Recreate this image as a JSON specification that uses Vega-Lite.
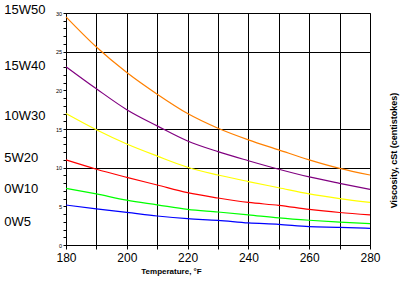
{
  "$schema": "https://vega.github.io/schema/vega-lite/v6.json",
  "width": 304,
  "height": 232,
  "autosize": {"type": "none"},
  "padding": {"left": 66, "top": 13, "right": 30, "bottom": 36},
  "background": "white",
  "config": {"view": {"stroke": "black", "strokeWidth": 1}, "font": "Liberation Sans"},
  "datasets": {
    "curves": [
      {"grade": "15W50", "temp": 180, "visc": 29.5},
      {"grade": "15W50", "temp": 190, "visc": 25.6},
      {"grade": "15W50", "temp": 200, "visc": 22.3},
      {"grade": "15W50", "temp": 210, "visc": 19.5},
      {"grade": "15W50", "temp": 220, "visc": 17.0},
      {"grade": "15W50", "temp": 230, "visc": 15.1},
      {"grade": "15W50", "temp": 240, "visc": 13.6},
      {"grade": "15W50", "temp": 250, "visc": 12.3},
      {"grade": "15W50", "temp": 260, "visc": 11.0},
      {"grade": "15W50", "temp": 270, "visc": 9.9},
      {"grade": "15W50", "temp": 280, "visc": 9.05},
      {"grade": "15W40", "temp": 180, "visc": 23.06},
      {"grade": "15W40", "temp": 190, "visc": 20.2},
      {"grade": "15W40", "temp": 200, "visc": 17.5},
      {"grade": "15W40", "temp": 210, "visc": 15.4},
      {"grade": "15W40", "temp": 220, "visc": 13.45},
      {"grade": "15W40", "temp": 230, "visc": 12.07},
      {"grade": "15W40", "temp": 240, "visc": 10.9},
      {"grade": "15W40", "temp": 250, "visc": 9.8},
      {"grade": "15W40", "temp": 260, "visc": 8.8},
      {"grade": "15W40", "temp": 270, "visc": 7.97},
      {"grade": "15W40", "temp": 280, "visc": 7.2},
      {"grade": "10W30", "temp": 180, "visc": 17.0},
      {"grade": "10W30", "temp": 190, "visc": 14.9},
      {"grade": "10W30", "temp": 200, "visc": 13.06},
      {"grade": "10W30", "temp": 210, "visc": 11.5},
      {"grade": "10W30", "temp": 220, "visc": 10.05},
      {"grade": "10W30", "temp": 230, "visc": 9.05},
      {"grade": "10W30", "temp": 240, "visc": 8.2},
      {"grade": "10W30", "temp": 250, "visc": 7.4},
      {"grade": "10W30", "temp": 260, "visc": 6.6},
      {"grade": "10W30", "temp": 270, "visc": 6.0},
      {"grade": "10W30", "temp": 280, "visc": 5.5},
      {"grade": "5W20", "temp": 180, "visc": 11.0},
      {"grade": "5W20", "temp": 190, "visc": 9.8},
      {"grade": "5W20", "temp": 200, "visc": 8.75},
      {"grade": "5W20", "temp": 210, "visc": 7.76},
      {"grade": "5W20", "temp": 220, "visc": 6.77},
      {"grade": "5W20", "temp": 230, "visc": 6.08},
      {"grade": "5W20", "temp": 240, "visc": 5.5},
      {"grade": "5W20", "temp": 250, "visc": 5.13},
      {"grade": "5W20", "temp": 260, "visc": 4.6},
      {"grade": "5W20", "temp": 270, "visc": 4.2},
      {"grade": "5W20", "temp": 280, "visc": 3.9},
      {"grade": "0W10", "temp": 180, "visc": 7.33},
      {"grade": "0W10", "temp": 190, "visc": 6.6},
      {"grade": "0W10", "temp": 200, "visc": 5.8},
      {"grade": "0W10", "temp": 210, "visc": 5.2},
      {"grade": "0W10", "temp": 220, "visc": 4.6},
      {"grade": "0W10", "temp": 230, "visc": 4.27},
      {"grade": "0W10", "temp": 240, "visc": 3.9},
      {"grade": "0W10", "temp": 250, "visc": 3.5},
      {"grade": "0W10", "temp": 260, "visc": 3.2},
      {"grade": "0W10", "temp": 270, "visc": 2.97},
      {"grade": "0W10", "temp": 280, "visc": 2.76},
      {"grade": "0W5", "temp": 180, "visc": 5.17},
      {"grade": "0W5", "temp": 190, "visc": 4.66},
      {"grade": "0W5", "temp": 200, "visc": 4.22},
      {"grade": "0W5", "temp": 210, "visc": 3.75},
      {"grade": "0W5", "temp": 220, "visc": 3.4},
      {"grade": "0W5", "temp": 230, "visc": 3.19},
      {"grade": "0W5", "temp": 240, "visc": 2.85},
      {"grade": "0W5", "temp": 250, "visc": 2.67},
      {"grade": "0W5", "temp": 260, "visc": 2.37},
      {"grade": "0W5", "temp": 270, "visc": 2.29},
      {"grade": "0W5", "temp": 280, "visc": 2.15}
    ],
    "labels": [
      {"grade": "15W50", "visc": 30.4},
      {"grade": "15W40", "visc": 23.1},
      {"grade": "10W30", "visc": 16.7},
      {"grade": "5W20", "visc": 11.2},
      {"grade": "0W10", "visc": 7.2},
      {"grade": "0W5", "visc": 3.0}
    ]
  },
  "layer": [
    {
      "data": {"name": "curves"},
      "mark": {"type": "line", "strokeWidth": 1.2, "interpolate": "monotone"},
      "encoding": {
        "x": {
          "field": "temp", "type": "quantitative",
          "scale": {"domain": [180, 280], "nice": false, "zero": false},
          "axis": {
            "title": "Temperature, °F",
            "values": [180, 190, 200, 210, 220, 230, 240, 250, 260, 270, 280],
            "labelExpr": "datum.value % 20 == 0 ? datum.label : ''",
            "labelFontSize": 12, "labelFont": "Liberation Sans", "labelColor": "black",
            "labelFlush": false, "labelOverlap": false, "labelPadding": 3,
            "tickSize": 4, "tickColor": "black", "domainColor": "black",
            "grid": true, "gridColor": "black", "gridOpacity": 1,
            "titleFontSize": 8, "titleFontWeight": "bold", "titleColor": "black",
            "titleX": 105, "titleY": 26, "titleAlign": "center", "titleBaseline": "middle"
          }
        },
        "y": {
          "field": "visc", "type": "quantitative",
          "scale": {"domain": [0, 30], "nice": false},
          "axis": {
            "orient": "left", "title": null,
            "values": [0,1,2,3,4,5,6,7,8,9,10,11,12,13,14,15,16,17,18,19,20,21,22,23,24,25,26,27,28,29,30],
            "labelExpr": "datum.value % 5 == 0 ? datum.label : ''",
            "labelFontSize": 5.5, "labelFont": "Liberation Sans", "labelColor": "black",
            "labelOverlap": false, "labelPadding": 1.5, "labelFlush": false,
            "tickSize": 3, "tickColor": "black", "domainColor": "black",
            "grid": true, "gridColor": "black",
            "gridOpacity": {"condition": {"test": "datum.value == 10 || datum.value == 15 || datum.value == 25", "value": 1}, "value": 0}
          }
        },
        "color": {
          "field": "grade", "type": "nominal",
          "scale": {"domain": ["15W50", "15W40", "10W30", "5W20", "0W10", "0W5"],
                    "range": ["#FF8000", "#800080", "#FFFF00", "#FF0000", "#00FF00", "#0000FF"]},
          "legend": null
        }
      }
    },
    {
      "data": {"name": "labels"},
      "mark": {"type": "text", "align": "left", "baseline": "middle", "fontSize": 13, "font": "Liberation Sans", "color": "black"},
      "encoding": {
        "x": {
          "datum": 159.7, "type": "quantitative",
          "axis": {
            "title": "Temperature, °F",
            "values": [180, 190, 200, 210, 220, 230, 240, 250, 260, 270, 280],
            "labelExpr": "datum.value % 20 == 0 ? datum.label : ''",
            "labelFontSize": 12, "labelFont": "Liberation Sans", "labelColor": "black",
            "labelFlush": false, "labelOverlap": false, "labelPadding": 3,
            "tickSize": 4, "tickColor": "black", "domainColor": "black",
            "grid": true, "gridColor": "black", "gridOpacity": 1,
            "titleFontSize": 8, "titleFontWeight": "bold", "titleColor": "black",
            "titleX": 105, "titleY": 26, "titleAlign": "center", "titleBaseline": "middle"
          }
        },
        "y": {
          "field": "visc", "type": "quantitative",
          "axis": {
            "orient": "right", "title": "Viscosity, cSt (centistokes)",
            "labels": false, "ticks": false, "domain": false, "grid": false,
            "titleFontSize": 9, "titleFontWeight": "bold", "titleColor": "black",
            "titleAngle": 270, "titleX": 23, "titleY": 137, "titleAlign": "center", "titleBaseline": "middle"
          }
        },
        "text": {"field": "grade"}
      }
    }
  ],
  "resolve": {"axis": {"y": "independent"}}
}
